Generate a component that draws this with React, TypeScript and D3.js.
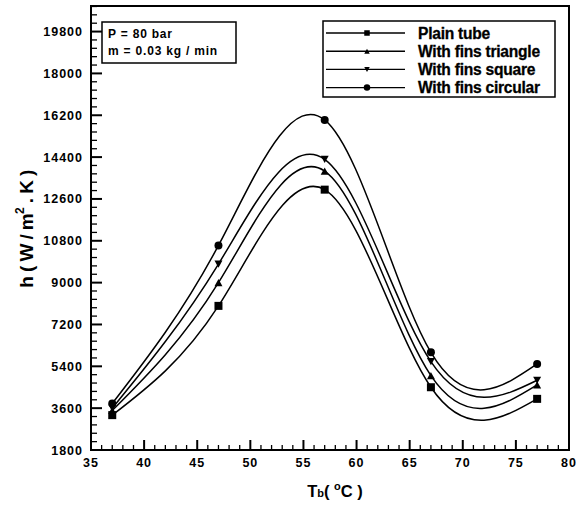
import React from "react";
import * as d3 from "d3";

const tb = [37, 47, 57, 67, 77];
const plainTube = [3300, 8000, 13000, 4500, 4000];
const finsTriangle = [3500, 9000, 13800, 5000, 4600];
const finsSquare = [3600, 9800, 14300, 5600, 4800];
const finsCircular = [3800, 10600, 16000, 6000, 5500];
const seriesNames = ["Plain tube", "With fins triangle", "With fins square", "With fins circular"];
const seriesMarkers = ["square", "triangle", "triangleDown", "circle"];
const xTicks = [35, 40, 45, 50, 55, 60, 65, 70, 75, 80];
const yTicks = [1800, 3600, 5400, 7200, 9000, 10800, 12600, 14400, 16200, 18000, 19800];

const W = 576, H = 506;
const L = 91, R = 569, T = 6, B = 450;
const FONT = "'Liberation Sans', Arial, sans-serif";

function Marker({ type, x, y, s }: { type: string; x: number; y: number; s: number }) {
  if (type === "square") return <rect x={x - s / 2} y={y - s / 2} width={s} height={s} fill="black" />;
  if (type === "circle") return <circle cx={x} cy={y} r={s / 2} fill="black" />;
  const h = s * 0.9;
  if (type === "triangle")
    return <path d={`M${x},${y - h / 2}L${x + s / 2},${y + h / 2}L${x - s / 2},${y + h / 2}Z`} fill="black" />;
  return <path d={`M${x},${y + h / 2}L${x + s / 2},${y - h / 2}L${x - s / 2},${y - h / 2}Z`} fill="black" />;
}

export default function App() {
  const x = d3.scaleLinear().domain([35, 80]).range([L, R]);
  const y = d3.scaleLinear().domain([1800, 20900]).range([B, T]);
  const all = [plainTube, finsTriangle, finsSquare, finsCircular];
  const line = d3
    .line<[number, number]>()
    .x((d) => x(d[0]))
    .y((d) => y(d[1]))
    .curve(d3.curveNatural);

  const xMinor = d3.range(35, 81, 1).filter((v) => v % 5 !== 0);
  const yMinor = d3.range(1800, 20900, 360).filter((v) => (v - 1800) % 1800 !== 0);

  return (
    <svg width={W} height={H} style={{ position: "absolute", left: 0, top: 0, background: "white" }} fontFamily={FONT}>
      {/* frame */}
      <rect x={L} y={T} width={R - L} height={B - T} fill="none" stroke="black" strokeWidth={2} />
      {/* x ticks */}
      {xTicks.map((v) => (
        <g key={"xt" + v}>
          <line x1={x(v)} x2={x(v)} y1={B} y2={B - 10} stroke="black" strokeWidth={2} />
          <text x={x(v)} y={467} textAnchor="middle" fontSize={12.5} fontWeight="bold" letterSpacing={1}>
            {v}
          </text>
        </g>
      ))}
      {xMinor.map((v) => (
        <line key={"xm" + v} x1={x(v)} x2={x(v)} y1={B} y2={B - 5} stroke="black" strokeWidth={1.3} />
      ))}
      {yTicks.map((v) => (
        <g key={"yt" + v}>
          <line x1={L} x2={L + 11} y1={y(v)} y2={y(v)} stroke="black" strokeWidth={2} />
          <text x={83} y={y(v) + 4.5} textAnchor="end" fontSize={12.5} fontWeight="bold" letterSpacing={1}>
            {v}
          </text>
        </g>
      ))}
      {yMinor.map((v) => (
        <line key={"ym" + v} x1={L} x2={L + 6} y1={y(v)} y2={y(v)} stroke="black" strokeWidth={1.3} />
      ))}
      {/* curves */}
      {all.map((s, i) => (
        <g key={"s" + i}>
          <path d={line(tb.map((t, j) => [t, s[j]] as [number, number])) || ""} fill="none" stroke="black" strokeWidth={1.5} />
          {tb.map((t, j) => (
            <Marker key={j} type={seriesMarkers[i]} x={x(t)} y={y(s[j])} s={8} />
          ))}
        </g>
      ))}
      {/* info box */}
      <rect x={102} y={22} width={134} height={41} fill="white" stroke="black" strokeWidth={1.5} />
      <text x={108} y={38} fontSize={12} fontWeight="bold" letterSpacing={0.8}>
        P = 80 bar
      </text>
      <text x={108} y={55} fontSize={12} fontWeight="bold" letterSpacing={0.8}>
        m = 0.03 kg  / min
      </text>
      {/* legend */}
      <rect x={323} y={21} width={232} height={76} fill="white" stroke="black" strokeWidth={1.5} />
      {seriesNames.map((n, i) => {
        const ly = 33 + i * 18.2;
        return (
          <g key={"l" + i}>
            <line x1={326} x2={405} y1={ly} y2={ly} stroke="black" strokeWidth={1.4} />
            <Marker type={seriesMarkers[i]} x={367} y={ly} s={i === 3 ? 6.5 : 5.5} />
            <text x={418} y={ly + 5.5} fontSize={15.6} fontWeight="bold" stroke="black" strokeWidth={0.3} letterSpacing={-0.25}>
              {n}
            </text>
          </g>
        );
      })}
      {/* axis titles */}
      <text x={335} y={497} textAnchor="middle" fontSize={16.5} fontWeight="bold">
        <tspan>T</tspan>
        <tspan fontSize={11}>b</tspan>
        <tspan>( </tspan>
        <tspan fontSize={11} dy={-7}>o</tspan>
        <tspan dy={7}>C )</tspan>
      </text>
      <text transform="translate(33,229) rotate(-90)" textAnchor="middle" fontSize={19} fontWeight="bold" letterSpacing={-0.6}>
        <tspan>h ( W / m</tspan>
        <tspan fontSize={12} dy={-9}>2</tspan>
        <tspan dy={9}> . K )</tspan>
      </text>
    </svg>
  );
}
